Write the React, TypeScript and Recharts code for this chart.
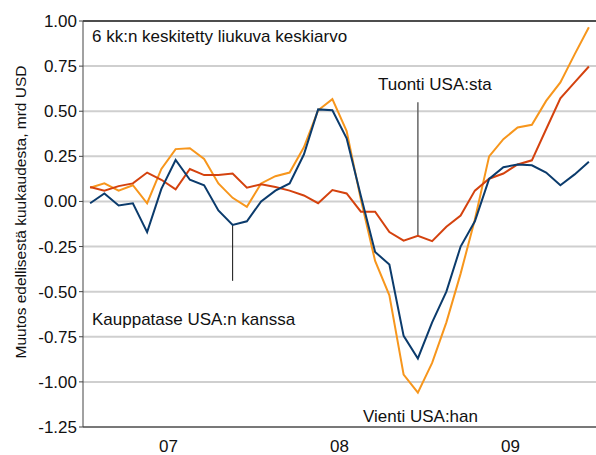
import { LineChart, Line, XAxis, YAxis, CartesianGrid, ReferenceLine, Customized } from 'recharts'

// Kuukausidata 2007-2009, mrd USD (6 kk keskitetty liukuva keskiarvo)
const YEARS = ['07', '08', '09']
const Y_TICKS = [-1.25, -1, -0.75, -0.5, -0.25, 0, 0.25, 0.5, 0.75, 1]

const KAUPPATASE = [
  -0.01, 0.044, -0.022, -0.01, -0.17, 0.07, 0.23, 0.12, 0.09, -0.05, -0.13, -0.11,
  0.0, 0.06, 0.1, 0.26, 0.51, 0.505, 0.35, 0.03, -0.28, -0.35, -0.745, -0.87,
  -0.67, -0.5, -0.25, -0.11, 0.125, 0.19, 0.205, 0.2, 0.16, 0.09, 0.15, 0.22,
]
const VIENTI = [
  0.076, 0.1, 0.06, 0.09, -0.01, 0.18, 0.29, 0.295, 0.235, 0.1, 0.02, -0.03,
  0.1, 0.14, 0.16, 0.3, 0.505, 0.567, 0.39, 0.01, -0.33, -0.52, -0.96, -1.06,
  -0.895, -0.67, -0.4, -0.1, 0.25, 0.345, 0.41, 0.425, 0.557, 0.66, 0.815, 0.965,
]
const TUONTI = [
  0.08, 0.06, 0.085, 0.1, 0.16, 0.12, 0.067, 0.18, 0.146, 0.146, 0.155, 0.076,
  0.095, 0.08, 0.06, 0.033, -0.01, 0.063, 0.044, -0.057, -0.057, -0.17, -0.217, -0.19,
  -0.22, -0.14, -0.078, 0.06, 0.126, 0.155, 0.205, 0.228, 0.4, 0.572, 0.66, 0.748,
]

const data = KAUPPATASE.map((v, i) => ({
  x: i + 0.5,
  kauppatase: v,
  vienti: VIENTI[i],
  tuonti: TUONTI[i],
}))

const N = KAUPPATASE.length
const yearBounds = YEARS.map((_, i) => i * 12)
const yearMids = YEARS.map((_, i) => i * 12 + 6)

const FONT = 'Liberation Sans, Arial, sans-serif'

const Annotations = () => (
  <g fontFamily={FONT} fill="#111">
    <text x={20} y={212} transform="rotate(-90 20 212)" textAnchor="middle" dominantBaseline="central" fontSize={15.5}>
      Muutos edellisestä kuukaudesta, mrd USD
    </text>
    <text x={92} y={42} fontSize={17}>6 kk:n keskitetty liukuva keskiarvo</text>
    <text x={378} y={90} fontSize={17}>Tuonti USA:sta</text>
    <text x={92} y={325} fontSize={17}>Kauppatase USA:n kanssa</text>
    <text x={363} y={422} fontSize={17}>Vienti USA:han</text>
  </g>
)

export default function App() {
  return (
    <div style={{ position: 'absolute', left: 0, top: 0, width: 596, height: 455, background: '#fff' }}>
      <LineChart width={596} height={455} data={data} margin={{ top: 21, right: 0, bottom: 0, left: 0 }}>
        <CartesianGrid vertical={false} stroke="#cfcfcf" strokeWidth={2} />
        <XAxis
          dataKey="x"
          type="number"
          domain={[0, N]}
          ticks={yearBounds}
          tick={false}
          tickSize={5}
          height={6}
          axisLine={{ stroke: '#222' }}
          tickLine={{ stroke: '#222' }}
        />
        <XAxis
          xAxisId="yr"
          dataKey="x"
          type="number"
          domain={[0, N]}
          ticks={yearMids}
          tickFormatter={v => YEARS[Math.floor(v / 12)]}
          axisLine={false}
          tickLine={false}
          tickSize={0}
          tickMargin={7}
          height={22}
          tick={{ fontSize: 17, fill: '#111', fontFamily: FONT }}
        />
        <YAxis
          domain={[-1.25, 1]}
          ticks={Y_TICKS}
          tickFormatter={v => v.toFixed(2)}
          width={83}
          tickSize={4}
          tickMargin={2}
          axisLine={{ stroke: '#444' }}
          tickLine={{ stroke: '#444' }}
          tick={{ fontSize: 17, fill: '#111', fontFamily: FONT }}
        />
        <ReferenceLine y={1} stroke="#222" strokeWidth={1.5} />
        <ReferenceLine
          segment={[{ x: 23.5, y: 0.55 }, { x: 23.5, y: TUONTI[23] }]}
          stroke="#666"
          strokeWidth={1.5}
          ifOverflow="visible"
        />
        <ReferenceLine
          segment={[{ x: 10.5, y: KAUPPATASE[10] }, { x: 10.5, y: -0.44 }]}
          stroke="#111"
          strokeWidth={1}
          ifOverflow="visible"
        />
        <Line dataKey="vienti" stroke="#f7961c" strokeWidth={2} dot={false} isAnimationActive={false} />
        <Line dataKey="tuonti" stroke="#d4420e" strokeWidth={2} dot={false} isAnimationActive={false} />
        <Line dataKey="kauppatase" stroke="#0b3b6c" strokeWidth={2} dot={false} isAnimationActive={false} />
        <Customized component={<Annotations />} />
      </LineChart>
    </div>
  )
}
